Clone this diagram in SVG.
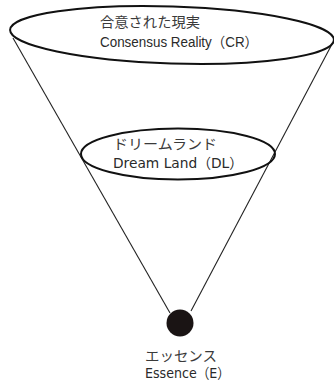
<svg xmlns="http://www.w3.org/2000/svg" width="334" height="384" viewBox="0 0 334 384">
<style>
.ell{fill:none;stroke:#111;stroke-width:2}
.ln{stroke:#222;stroke-width:1.1;fill:none}
.jp{font-family:"Noto Sans CJK JP",sans-serif;font-size:14px;fill:#3a3a3a}
.la{font-family:"Liberation Sans","Noto Sans CJK JP",sans-serif;font-size:14px;fill:#2a2a2a}
.dv{font-family:"DejaVu Sans","Noto Sans CJK JP",sans-serif;font-size:14px;fill:#2a2a2a}
</style>
<rect width="334" height="384" fill="#fff"/>
<g id="connectors">
<line class="ln" x1="13" y1="38" x2="170" y2="313"/>
<line class="ln" x1="331" y1="46" x2="191" y2="311"/>
</g>
<g id="cr">
<ellipse class="ell" cx="172" cy="35" rx="162" ry="28.5" transform="rotate(1.8 172 35)"/>
<text class="jp" x="100" y="27" textLength="100" lengthAdjust="spacingAndGlyphs">合意された現実</text>
<text class="la" x="100" y="47" textLength="158" lengthAdjust="spacingAndGlyphs">Consensus Reality（CR）</text>
</g>
<g id="dl">
<ellipse class="ell" cx="178" cy="154" rx="97" ry="25.5"/>
<text class="jp" x="113" y="149" textLength="104" lengthAdjust="spacingAndGlyphs">ドリームランド</text>
<text class="dv" x="113" y="168" textLength="130" lengthAdjust="spacingAndGlyphs">Dream Land（DL）</text>
</g>
<g id="essence">
<circle cx="180" cy="323" r="13.5" fill="#1a1414"/>
<text class="jp" x="145" y="361" textLength="72" lengthAdjust="spacingAndGlyphs">エッセンス</text>
<text class="dv" x="145" y="378" font-size="13" textLength="85" lengthAdjust="spacingAndGlyphs">Essence（E）</text>
</g>
</svg>
